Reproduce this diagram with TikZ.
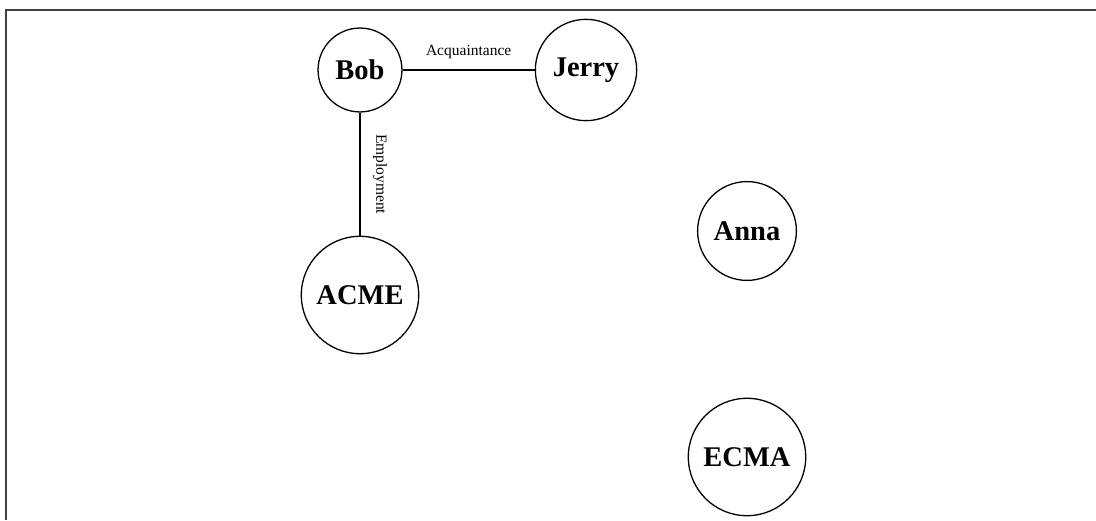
\documentclass[tikz,border=0pt]{standalone}
\usepackage{fontspec}
\setmainfont{Liberation Serif}
\begin{document}
\begin{tikzpicture}[x=1pt,y=1pt,
  entity/.style={circle, draw, line width=1.3pt, inner sep=11.5pt, font=\fontsize{28.5}{30}\selectfont\bfseries},
  rel/.style={line width=1.3pt},
  rellabel/.style={font=\fontsize{15.5}{17}\selectfont}]
\useasboundingbox (0,0) rectangle (1096,520);
\draw[line width=1.5pt, black!75] (1096,510) -- (6,510) -- (6,0);
\node[entity] (bob) at (360,450) {Bob};
\node[entity] (jerry) at (586,450) {Jerry};
\node[entity] (acme) at (360,225) {ACME};
\node[entity] (anna) at (747,289) {Anna};
\node[entity] (ecma) at (747,63) {ECMA};
\draw[rel] (bob) -- node[rellabel, midway, above, inner sep=11pt] {Acquaintance} (jerry);
\draw[rel] (bob) -- node[rellabel, midway, rotate=-90, anchor=south, inner sep=12.5pt] {Employment} (acme);
\end{tikzpicture}
\end{document}
